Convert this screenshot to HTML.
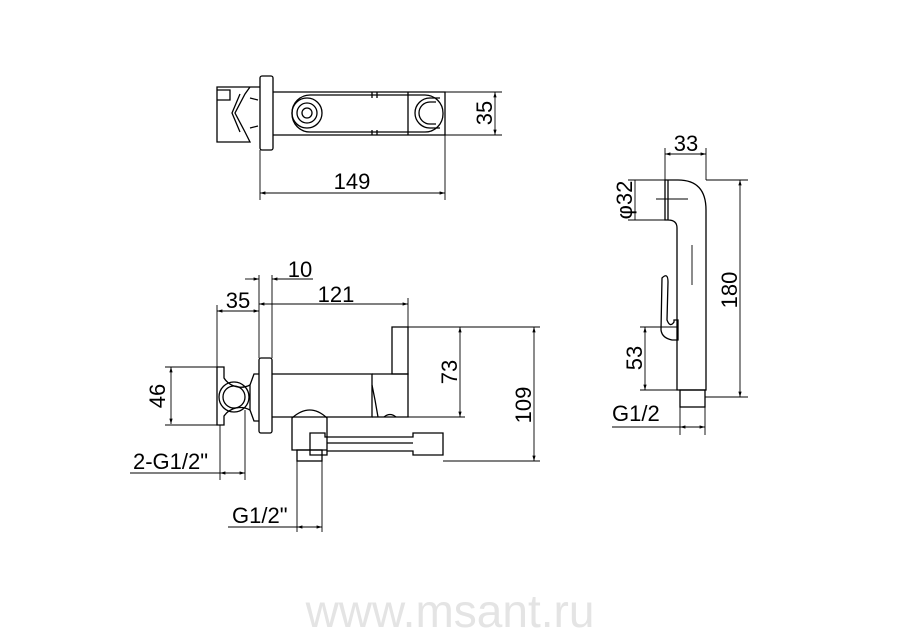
<!DOCTYPE html>
<html><head><meta charset="utf-8"><style>html,body{margin:0;padding:0;background:#fff}svg{display:block}</style></head><body>
<svg width="900" height="636" viewBox="0 0 900 636" xmlns="http://www.w3.org/2000/svg" font-family="'Liberation Sans Narrow','Liberation Sans',sans-serif">
<defs>
<marker id="a" viewBox="0 0 10 10" refX="10" refY="5" markerWidth="8" markerHeight="6" orient="auto-start-reverse"><path d="M0,2 L10,5 L0,8z" fill="#000"/></marker>
</defs>
<g fill="none" stroke="#000" stroke-width="1.3">
<!-- top view -->
<rect x="260" y="76" width="13" height="74" rx="2"/>
<path d="M260,87 H217 V142 H250 L245,132 L235,113 L245,94 L250,87"/>
<path d="M217,90 H230 V100 H217"/>
<path d="M240,94 L232,113 L240,132 M250,98 L258,100 M250,128 L258,126"/>
<path d="M273,92 H445 V135 H273"/>
<rect x="292" y="95" width="151" height="37" rx="18"/>
<circle cx="307" cy="113" r="15"/><circle cx="307" cy="113" r="10"/><circle cx="307" cy="113" r="5"/>
<path d="M440,98 H430 A15,15 0 0 0 430,128 H440"/>
<path d="M436,102 H430 A11,11 0 0 0 430,124 H436"/>
<path d="M372,92 V98 M377,92 V98 M372,130 V135 M377,130 V135 M408,92 V135"/>
</g>
<g stroke="#000" stroke-width="0.9" fill="none">
<path d="M445,92 H502 M445,135 H502 M260,150 V200 M445,135 V200"/>
<line x1="495" y1="92" x2="495" y2="135" marker-start="url(#a)" marker-end="url(#a)"/>
<line x1="260" y1="193" x2="445" y2="193" marker-start="url(#a)" marker-end="url(#a)"/>
</g>
<!-- front view -->
<g fill="none" stroke="#000" stroke-width="1.3">
<rect x="259" y="358" width="13" height="75" rx="2"/>
<path d="M259,374 H254 L250,385 V410 L254,421 H259"/>
<path d="M217,367 H224 V378 A20,20 0 0 0 250,385 M217,367 V425 H224 V416 A20,20 0 0 1 250,410"/>
<circle cx="234" cy="397" r="15"/><circle cx="234" cy="397" r="11"/>
<path d="M272,374 H372 V417 H272"/>
<path d="M372,374 H408 V417 H372 M372,385 L375,400 L378,417"/>
<path d="M392,327 H408 V374 H392 Z M392,327 L392,374"/>
<path d="M384,417 Q390,412 396,417"/>
<path d="M292,418 Q310,402 327,418 V450 H292 Z"/>
<path d="M310,433 H325 V437 H413 V433 H443 V455 H413 V451 H327 V455 H310 Z"/>
<path d="M327,443 H413"/>
<rect x="297" y="450" width="25" height="11"/>
</g>
<g stroke="#000" stroke-width="0.9" fill="none">
<path d="M259,358 V275 M272,358 V275 M408,327 V298 M408,327 H540 M408,417 H465 M443,461 H540 M217,367 V305 M217,367 H165 M217,425 H165 M220,425 V480 M245,410 V480 M297,461 V532 M322,461 V532"/>
<line x1="313" y1="279" x2="272" y2="279" marker-end="url(#a)"/>
<line x1="245" y1="279" x2="259" y2="279" marker-end="url(#a)"/>
<line x1="259" y1="304" x2="408" y2="304" marker-start="url(#a)" marker-end="url(#a)"/>
<line x1="217" y1="311" x2="259" y2="311" marker-start="url(#a)" marker-end="url(#a)"/>
<line x1="171" y1="367" x2="171" y2="424" marker-start="url(#a)" marker-end="url(#a)"/>
<line x1="460" y1="327" x2="460" y2="417" marker-start="url(#a)" marker-end="url(#a)"/>
<line x1="534" y1="327" x2="534" y2="461" marker-start="url(#a)" marker-end="url(#a)"/>
<path d="M130,473 H220"/>
<line x1="220" y1="473" x2="245" y2="473" marker-start="url(#a)" marker-end="url(#a)"/>
<path d="M228,527 H297"/>
<line x1="297" y1="527" x2="322" y2="527" marker-start="url(#a)" marker-end="url(#a)"/>
</g>
<!-- hand shower -->
<g fill="none" stroke="#000" stroke-width="1.3">
<path d="M665,180 H678 Q706,180 706,210 V390 H677 V228 Q677,220 668,220 H665 Z M668,180 V220"/>
<rect x="680" y="390" width="25" height="17"/>
<path d="M662,278 Q668,272 668,282 L667,320 Q670,328 674,322 V320 H678 V340 H672 Q662,338 661,330 Z"/>
</g>
<g stroke="#000" stroke-width="0.9" fill="none">
<path d="M665,180 V148 M706,180 V148 M706,180 H748 M705,397 H748 M665,180 H628 M668,220 H628 M656,199 H688 M692,245 V285 M677,327 H640 M677,390 H640 M680,407 V435 M705,407 V435 M612,427 H680"/>
<line x1="665" y1="154" x2="706" y2="154" marker-start="url(#a)" marker-end="url(#a)"/>
<line x1="740" y1="180" x2="740" y2="397" marker-start="url(#a)" marker-end="url(#a)"/>
<line x1="635" y1="180" x2="635" y2="220"/>
<line x1="645" y1="327" x2="645" y2="390" marker-start="url(#a)" marker-end="url(#a)"/>
<line x1="680" y1="427" x2="705" y2="427" marker-start="url(#a)" marker-end="url(#a)"/>
</g>
<g fill="#000" font-size="22">
<text x="352" y="189" text-anchor="middle">149</text>
<text transform="translate(492,113) rotate(-90)" text-anchor="middle">35</text>
<text x="300" y="277" text-anchor="middle">10</text>
<text x="336" y="302" text-anchor="middle">121</text>
<text x="238" y="308" text-anchor="middle">35</text>
<text transform="translate(165,396) rotate(-90)" text-anchor="middle">46</text>
<text transform="translate(457,372) rotate(-90)" text-anchor="middle">73</text>
<text transform="translate(531,405) rotate(-90)" text-anchor="middle">109</text>
<text x="133" y="469">2-G1/2"</text>
<text x="232" y="523">G1/2"</text>
<text x="686" y="151" text-anchor="middle">33</text>
<text transform="translate(632,200) rotate(-90)" text-anchor="middle">φ32</text>
<text transform="translate(737,290) rotate(-90)" text-anchor="middle">180</text>
<text transform="translate(642,358) rotate(-90)" text-anchor="middle">53</text>
<text x="612" y="421">G1/2</text>
</g>
<text x="450" y="627" text-anchor="middle" font-family="'Liberation Sans',sans-serif" font-size="46" fill="#e4e4e4">www.msant.ru</text>
</svg>
</body></html>
